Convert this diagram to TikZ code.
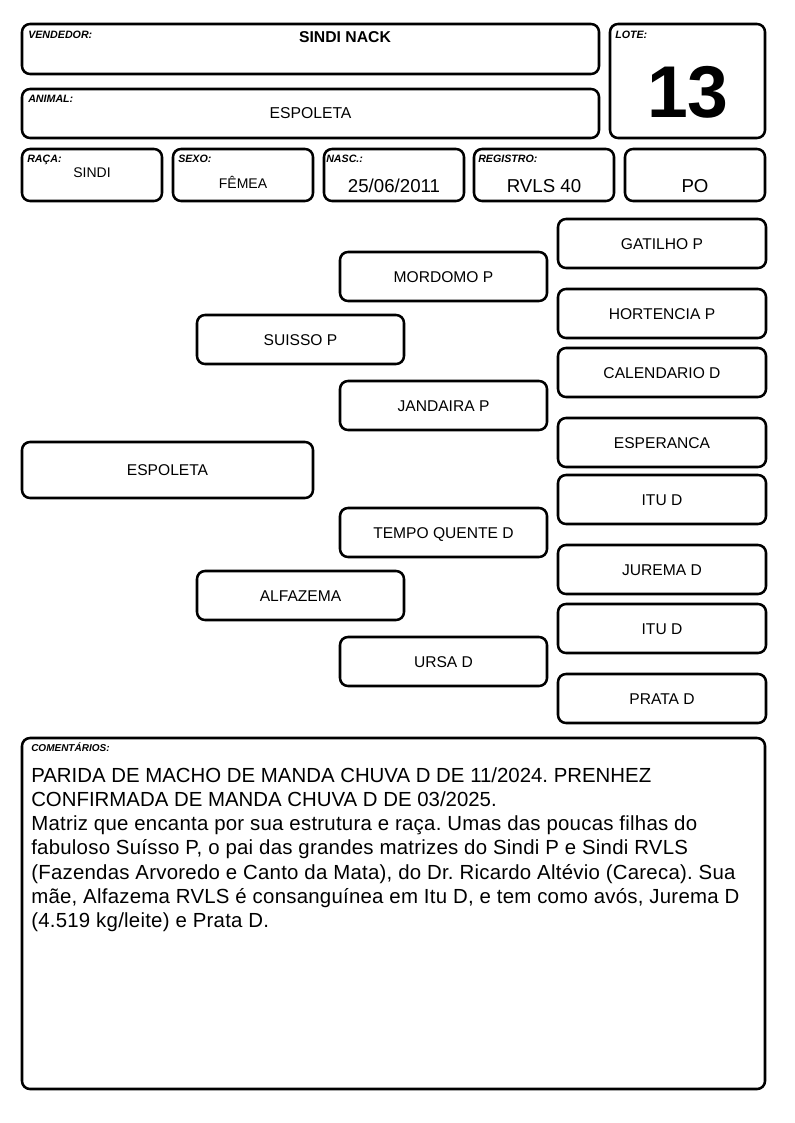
\documentclass[tikz,border=0pt]{standalone}
\usepackage{fontspec}
\setmainfont{Liberation Sans}
\newfontfamily\widesans[LetterSpace=1.2]{Liberation Sans}
\frenchspacing
\begin{document}
\begin{tikzpicture}[x=0.75pt,y=-0.75pt,
  box/.style={draw, line width=1.9pt, rounded corners=6pt, inner sep=0pt},
  hdrlbl/.style={anchor=base west, inner sep=0pt, font=\fontsize{8}{9.6}\selectfont\bfseries\itshape},
  val/.style={anchor=base, inner sep=0pt},
  ped/.style={box, minimum width=155.25pt, minimum height=36.75pt, font=\fontsize{11.7}{14}\selectfont, text height=8.4pt, text depth=0pt},
  pedwide/.style={ped, minimum width=156pt}]
\useasboundingbox (0,0) rectangle (794,1123);
% header boxes
\node[box, minimum width=432.75pt, minimum height=37.5pt] (vend) at (310.5,49) {};
\node[box, minimum width=432.75pt, minimum height=36.75pt] (anim) at (310.5,113.5) {};
\node[box, minimum width=116.25pt, minimum height=85.5pt] (lote) at (687.5,81) {};
\node[box, minimum width=105pt, minimum height=39pt] (raca) at (92,175) {};
\node[box, minimum width=105pt, minimum height=39pt] (sexo) at (243,175) {};
\node[box, minimum width=105pt, minimum height=39pt] (nasc) at (394,175) {};
\node[box, minimum width=105pt, minimum height=39pt] (reg) at (544,175) {};
\node[box, minimum width=105pt, minimum height=39pt] (po) at (695,175) {};
% header labels
\node[hdrlbl] (vendl) at (28,39) {VENDEDOR:};
\node[val, font=\fontsize{11.8}{14}\selectfont\bfseries] (vendv) at (345,43) {SINDI NACK};
\node[hdrlbl] (animl) at (28,102.3) {ANIMAL:};
\node[val, font=\fontsize{11.8}{14}\selectfont] (animv) at (310.5,119) {ESPOLETA};
\node[hdrlbl] (lotel) at (615,39) {LOTE:};
\node[val, font=\fontsize{55}{60}\selectfont\bfseries] (lotev) at (688,118) {13};
\node[hdrlbl] (racal) at (27,163) {RAÇA:};
\node[val, font=\fontsize{10.5}{12}\selectfont] (racav) at (92,178) {SINDI};
\node[hdrlbl] (sexol) at (178,163) {SEXO:};
\node[val, font=\fontsize{10.5}{12}\selectfont] (sexov) at (243,189) {FÊMEA};
\node[hdrlbl] (nascl) at (326,163) {NASC.:};
\node[val, font=\fontsize{14}{16}\selectfont] (nascv) at (394,193) {25/06/2011};
\node[hdrlbl] (regl) at (478,163) {REGISTRO:};
\node[val, font=\fontsize{14}{16}\selectfont] (regv) at (544,193) {RVLS 40};
\node[val, font=\fontsize{14}{16}\selectfont] (pov) at (695,193) {PO};
% pedigree
\node[ped, minimum width=218.25pt, minimum height=42pt] (p0) at (167.5,470) {ESPOLETA};
\node[ped] (p1) at (300.5,339.5) {SUISSO P};
\node[ped] (p2) at (300.5,595.5) {ALFAZEMA};
\node[ped] (p3) at (443.5,276.5) {MORDOMO P};
\node[ped] (p4) at (443.5,405.5) {JANDAIRA P};
\node[ped] (p5) at (443.5,532.5) {TEMPO QUENTE D};
\node[ped] (p6) at (443.5,661.5) {URSA D};
\node[pedwide] (p7) at (662,243.5) {GATILHO P};
\node[pedwide] (p8) at (662,313.5) {HORTENCIA P};
\node[pedwide] (p9) at (662,372.5) {CALENDARIO D};
\node[pedwide] (p10) at (662,442.5) {ESPERANCA};
\node[pedwide] (p11) at (662,499.5) {ITU D};
\node[pedwide] (p12) at (662,569.5) {JUREMA D};
\node[pedwide] (p13) at (662,628.5) {ITU D};
\node[pedwide] (p14) at (662,698.5) {PRATA D};
% comments
\node[box, minimum width=557.25pt, minimum height=263.25pt] (com) at (393.5,913.5) {};
\node[hdrlbl, font=\fontsize{7.5}{9}\selectfont\bfseries\itshape] (coml) at (31,751.5) {COMENTÁRIOS:};
\node[anchor=north west, inner sep=0pt, align=left, font=\fontsize{15.3}{18.2}\selectfont] (comt) at (31,767) {PARIDA DE MACHO DE MANDA CHUVA D DE 11/2024. PRENHEZ\\
CONFIRMADA DE MANDA CHUVA D DE 03/2025.\\
{\widesans Matriz que encanta por sua estrutura e raça. Umas das poucas filhas do}\\
{\widesans fabuloso Suísso P, o pai das grandes matrizes do Sindi P e Sindi RVLS}\\
{\widesans (Fazendas Arvoredo e Canto da Mata), do Dr. Ricardo Altévio (Careca). Sua}\\
{\widesans mãe, Alfazema RVLS é consanguínea em Itu D, e tem como avós, Jurema D}\\
{\widesans (4.519 kg/leite) e Prata D.}};
\end{tikzpicture}
\end{document}
